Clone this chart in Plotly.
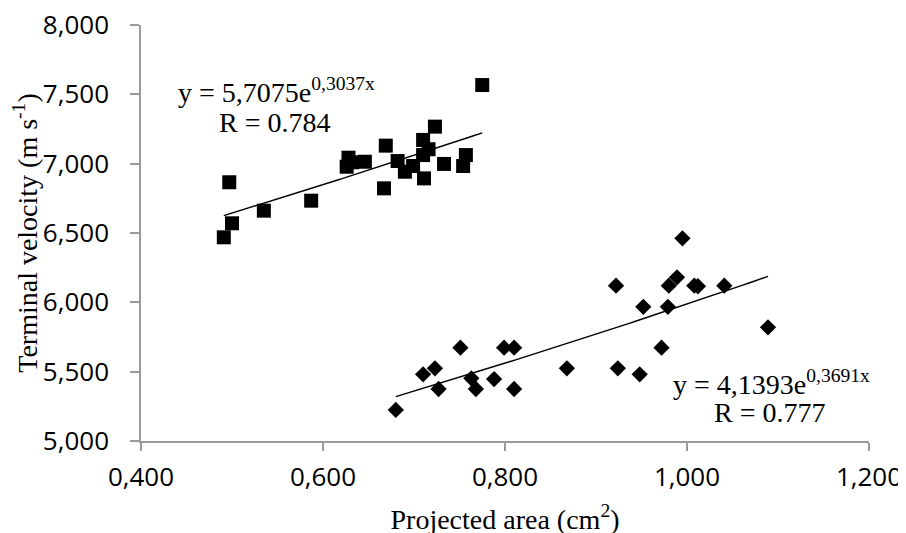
import numpy as np
import plotly.graph_objects as go

# Squares (upper group)
sq_x = [0.497, 0.491, 0.500, 0.535, 0.587, 0.628, 0.626, 0.632, 0.646, 0.669, 0.667,
        0.682, 0.690, 0.699, 0.710, 0.716, 0.710, 0.711, 0.723, 0.733, 0.757, 0.754, 0.775]
sq_y = [6.866, 6.469, 6.570, 6.661, 6.733, 7.043, 6.978, 7.010, 7.014, 7.130, 6.822,
        7.019, 6.942, 6.983, 7.171, 7.104, 7.062, 6.894, 7.267, 6.998, 7.062, 6.983, 7.567]

# Diamonds (lower group)
dm_x = [0.680, 0.710, 0.723, 0.727, 0.751, 0.763, 0.768, 0.788, 0.799, 0.810, 0.810,
        0.868, 0.922, 0.924, 0.948, 0.952, 0.972, 0.980, 0.979, 0.989, 0.995, 1.008,
        1.012, 1.041, 1.089]
dm_y = [5.224, 5.481, 5.524, 5.375, 5.673, 5.452, 5.375, 5.447, 5.673, 5.673, 5.375,
        5.524, 6.120, 5.524, 5.481, 5.968, 5.673, 6.120, 5.968, 6.180, 6.462, 6.120,
        6.116, 6.120, 5.820]

# Fitted exponential trendlines (coefficients from the chart labels)
fit_sq = [5.7075, 0.3037]
fit_dm = [4.1393, 0.3691]

x_ticks = [0.4, 0.6, 0.8, 1.0, 1.2]
x_ticktext = ["0,400", "0,600", "0,800", "1,000", "1,200"]
y_ticks = [5.0, 5.5, 6.0, 6.5, 7.0, 7.5, 8.0]
y_ticktext = ["5,000", "5,500", "6,000", "6,500", "7,000", "7,500", "8,000"]

serif = "Liberation Serif, Times New Roman, serif"
sans = "Open Sans, Liberation Sans, sans-serif"
axis_grey = "#9a9a9a"

fig = go.Figure()

tx1 = np.linspace(min(sq_x), max(sq_x), 60)
tx2 = np.linspace(min(dm_x), max(dm_x), 60)
fig.add_trace(go.Scatter(x=tx1, y=fit_sq[0] * np.exp(fit_sq[1] * tx1), mode="lines",
                         line=dict(color="black", width=1.5), showlegend=False, hoverinfo="skip"))
fig.add_trace(go.Scatter(x=tx2, y=fit_dm[0] * np.exp(fit_dm[1] * tx2), mode="lines",
                         line=dict(color="black", width=1.5), showlegend=False, hoverinfo="skip"))

fig.add_trace(go.Scatter(x=sq_x, y=sq_y, mode="markers",
                         marker=dict(symbol="square", size=14, color="black"), showlegend=False))
fig.add_trace(go.Scatter(x=dm_x, y=dm_y, mode="markers",
                         marker=dict(symbol="diamond", size=12.5, color="black"), showlegend=False))

fig.add_annotation(x=0.4388, y=7.531, xref="x", yref="y", xanchor="left", yanchor="middle",
                   text="y = 5,7075e<sup>0,3037x</sup>", showarrow=False,
                   font=dict(family=serif, size=28, color="black"))
fig.add_annotation(x=0.4834, y=7.30, xref="x", yref="y", xanchor="left", yanchor="middle",
                   text="R = 0.784", showarrow=False,
                   font=dict(family=serif, size=28, color="black"))
fig.add_annotation(x=0.982, y=5.425, xref="x", yref="y", xanchor="left", yanchor="middle",
                   text="y = 4,1393e<sup>0,3691x</sup>", showarrow=False,
                   font=dict(family=serif, size=28, color="black"))
fig.add_annotation(x=1.028, y=5.202, xref="x", yref="y", xanchor="left", yanchor="middle",
                   text="R = 0.777", showarrow=False,
                   font=dict(family=serif, size=28, color="black"))

fig.update_layout(
    width=906, height=533,
    margin=dict(l=133, r=45, t=17, b=100),
    paper_bgcolor="white", plot_bgcolor="white",
    xaxis=dict(range=[0.4, 1.2], tickvals=x_ticks, ticktext=x_ticktext,
               showgrid=False, zeroline=False, showline=True, linecolor=axis_grey, linewidth=1.5,
               ticks="outside", ticklen=8, tickcolor=axis_grey, tickwidth=1.5,
               tickfont=dict(family=sans, size=26, color="black"),
               ticklabelstandoff=4, ticklabeloverflow="allow",
               title=dict(text="Projected area (cm<sup>2</sup>)", standoff=16,
                          font=dict(family=serif, size=28, color="black")),
               automargin=False),
    yaxis=dict(range=[5.0, 8.0], tickvals=y_ticks, ticktext=y_ticktext,
               showgrid=False, zeroline=False, showline=True, linecolor=axis_grey, linewidth=1.5,
               ticks="outside", ticklen=9, tickcolor=axis_grey, tickwidth=1.5,
               tickfont=dict(family=sans, size=26, color="black"),
               ticklabelstandoff=16, ticklabeloverflow="allow",
               title=dict(text="Terminal velocity (m s<sup>-1</sup>)", standoff=15,
                          font=dict(family=serif, size=28, color="black")),
               automargin=False),
)

fig.write_html("out.html")
